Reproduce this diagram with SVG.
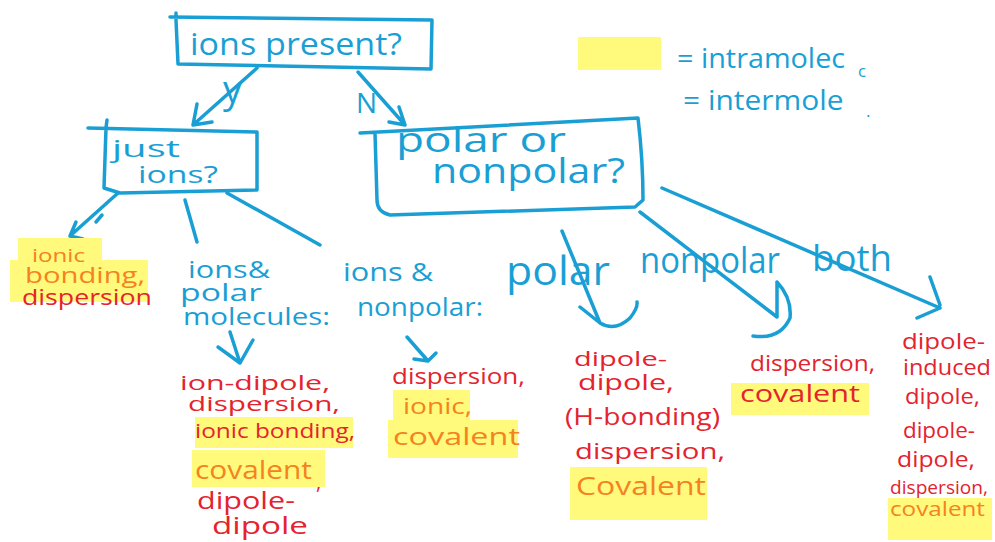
<svg xmlns="http://www.w3.org/2000/svg" width="995" height="542" viewBox="0 0 995 542">
<style>
.t{font-family:"Open Sans","Noto Sans",sans-serif}
.b{fill:#1a9fd5}
.r{fill:#e4232e}
.o{fill:#f58220}
.hl{fill:#fffa7c}
.ln{stroke:#1a9fd5;stroke-width:3.5;fill:none;stroke-linecap:round;stroke-linejoin:round}
</style>
<rect width="995" height="542" fill="#ffffff"/>

<g id="legend">
<rect class="hl" x="578" y="37" width="83" height="33"/>
<text class="t b" x="677" y="68" font-size="28" textLength="176" lengthAdjust="spacingAndGlyphs">= intramolec<tspan font-size="16" x="858" y="77">c</tspan></text>
<text class="t b" x="683" y="110" font-size="28" textLength="165" lengthAdjust="spacingAndGlyphs">= intermole<tspan font-size="16" x="866" y="117">.</tspan></text>
</g>

<g id="connectors">
<path class="ln" d="M257,68 L193,125 M193,125 L197,104 M193,125 L212,122"/>
<path class="ln" d="M358,72 L405,125 M405,125 L399,107 M405,125 L389,122"/>
<path class="ln" d="M118,193 L70,236 M70,236 L76,222 M70,236 L83,239 M96,222 L102,215"/>
<path class="ln" d="M185,200 L197,242"/>
<path class="ln" d="M227,193 L320,245"/>
<path class="ln" d="M230,332 L240,363 M218,347 L240,363 L253,340"/>
<path class="ln" d="M407,337 L428,361 M414,359 L428,361 L436,353"/>
<path class="ln" d="M562,231 L600,323 M580,307 L600,323 M600,323 Q615,332 630,318 Q638,308 637,302"/>
<path class="ln" d="M640,212 L777,317 M777,282 L777,317 M753,336 Q780,340 790,318 Q792,298 777,282"/>
<path class="ln" d="M662,188 L940,308 M930,277 L940,305 M917,318 L940,308"/>
</g>

<g id="ions-present">
<path class="ln" d="M170,17 L432,20 L431,69 L178,64 L176,20 M176,13 L176,20"/>
<text class="t b" x="190" y="55" font-size="31" textLength="212" lengthAdjust="spacingAndGlyphs">ions present?</text>
<text class="t b" x="223" y="103" font-size="38">y</text>
<text class="t b" x="356" y="113" font-size="28">N</text>
</g>

<g id="just-ions">
<path class="ln" d="M88,128 L257,132 L257,190 L120,193 L104,188 L106,128 M107,120 L106,128"/>
<text class="t b" x="112" y="157" font-size="24" textLength="68" lengthAdjust="spacingAndGlyphs">just</text>
<text class="t b" x="138" y="183" font-size="24" textLength="80" lengthAdjust="spacingAndGlyphs">ions?</text>
</g>

<g id="polar-or-nonpolar">
<path class="ln" d="M360,133 L638,118 Q643,160 643,200 L635,207 L390,215 Q377,212 377,200 L375,133"/>
<text class="t b" x="396" y="152" font-size="34" textLength="170" lengthAdjust="spacingAndGlyphs">polar or</text>
<text class="t b" x="432" y="183" font-size="34" textLength="193" lengthAdjust="spacingAndGlyphs">nonpolar?</text>
</g>

<g id="ionic-bonding">
<rect class="hl" x="18" y="238" width="84" height="26"/>
<rect class="hl" x="10" y="260" width="138" height="42"/>
<text class="t o" x="32" y="262" font-size="18" textLength="53" lengthAdjust="spacingAndGlyphs">ionic</text>
<text class="t o" x="25" y="283" font-size="22" textLength="120" lengthAdjust="spacingAndGlyphs">bonding,</text>
<text class="t r" x="22" y="305" font-size="21" textLength="130" lengthAdjust="spacingAndGlyphs">dispersion</text>
</g>

<g id="ions-polar">
<text class="t b" x="188" y="278" font-size="24" textLength="82" lengthAdjust="spacingAndGlyphs">ions&amp;</text>
<text class="t b" x="180" y="301" font-size="24" textLength="82" lengthAdjust="spacingAndGlyphs">polar</text>
<text class="t b" x="183" y="325" font-size="24" textLength="147" lengthAdjust="spacingAndGlyphs">molecules:</text>
</g>

<g id="ions-nonpolar">
<text class="t b" x="343" y="281" font-size="26" textLength="90" lengthAdjust="spacingAndGlyphs">ions &amp;</text>
<text class="t b" x="357" y="316" font-size="26" textLength="126" lengthAdjust="spacingAndGlyphs">nonpolar:</text>
</g>

<g id="polar-results">
<rect class="hl" x="195" y="417" width="158" height="31"/>
<rect class="hl" x="192" y="450" width="133" height="37"/>
<text class="t r" x="180" y="390" font-size="20" textLength="150" lengthAdjust="spacingAndGlyphs">ion-dipole,</text>
<text class="t r" x="188" y="411" font-size="20" textLength="152" lengthAdjust="spacingAndGlyphs">dispersion,</text>
<text class="t r" x="195" y="438" font-size="20" textLength="160" lengthAdjust="spacingAndGlyphs">ionic bonding,</text>
<text class="t o" x="195" y="479" font-size="26" textLength="117" lengthAdjust="spacingAndGlyphs">covalent</text>
<text class="t r" x="316" y="489" font-size="20">,</text>
<text class="t r" x="197" y="509" font-size="23" textLength="98" lengthAdjust="spacingAndGlyphs">dipole-</text>
<text class="t r" x="212" y="534" font-size="23" textLength="96" lengthAdjust="spacingAndGlyphs">dipole</text>
</g>

<g id="nonpolar-results">
<rect class="hl" x="393" y="390" width="77" height="30"/>
<rect class="hl" x="388" y="420" width="130" height="38"/>
<text class="t r" x="392" y="384" font-size="22" textLength="133" lengthAdjust="spacingAndGlyphs">dispersion,</text>
<text class="t o" x="403" y="414" font-size="22" textLength="69" lengthAdjust="spacingAndGlyphs">ionic,</text>
<text class="t o" x="393" y="445" font-size="24" textLength="127" lengthAdjust="spacingAndGlyphs">covalent</text>
</g>

<g id="branch-labels">
<text class="t b" x="506" y="285" font-size="40" textLength="104" lengthAdjust="spacingAndGlyphs">polar</text>
<text class="t b" x="640" y="273" font-size="36" textLength="140" lengthAdjust="spacingAndGlyphs">nonpolar</text>
<text class="t b" x="812" y="271" font-size="36" textLength="80" lengthAdjust="spacingAndGlyphs">both</text>
</g>

<g id="polar-molecules-results">
<rect class="hl" x="570" y="467" width="137" height="53"/>
<text class="t r" x="574" y="366" font-size="20" textLength="93" lengthAdjust="spacingAndGlyphs">dipole-</text>
<text class="t r" x="578" y="390" font-size="22" textLength="96" lengthAdjust="spacingAndGlyphs">dipole,</text>
<text class="t r" x="565" y="425" font-size="24" textLength="155" lengthAdjust="spacingAndGlyphs">(H-bonding)</text>
<text class="t r" x="575" y="459" font-size="22" textLength="150" lengthAdjust="spacingAndGlyphs">dispersion,</text>
<text class="t o" x="576" y="495" font-size="26" textLength="130" lengthAdjust="spacingAndGlyphs">Covalent</text>
</g>

<g id="nonpolar-molecules-results">
<rect class="hl" x="731" y="383" width="138" height="32"/>
<text class="t r" x="750" y="371" font-size="22" textLength="125" lengthAdjust="spacingAndGlyphs">dispersion,</text>
<text class="t r" x="740" y="402" font-size="24" textLength="120" lengthAdjust="spacingAndGlyphs">covalent</text>
</g>

<g id="both-results">
<rect class="hl" x="888" y="498" width="104" height="42"/>
<text class="t r" x="902" y="349" font-size="21" textLength="83" lengthAdjust="spacingAndGlyphs">dipole-</text>
<text class="t r" x="903" y="375" font-size="21" textLength="88" lengthAdjust="spacingAndGlyphs">induced</text>
<text class="t r" x="905" y="404" font-size="21" textLength="75" lengthAdjust="spacingAndGlyphs">dipole,</text>
<text class="t r" x="903" y="438" font-size="21" textLength="72" lengthAdjust="spacingAndGlyphs">dipole-</text>
<text class="t r" x="897" y="467" font-size="21" textLength="78" lengthAdjust="spacingAndGlyphs">dipole,</text>
<text class="t r" x="890" y="494" font-size="19" textLength="98" lengthAdjust="spacingAndGlyphs">dispersion,</text>
<text class="t o" x="890" y="516" font-size="20" textLength="95" lengthAdjust="spacingAndGlyphs">covalent</text>
</g>
</svg>
